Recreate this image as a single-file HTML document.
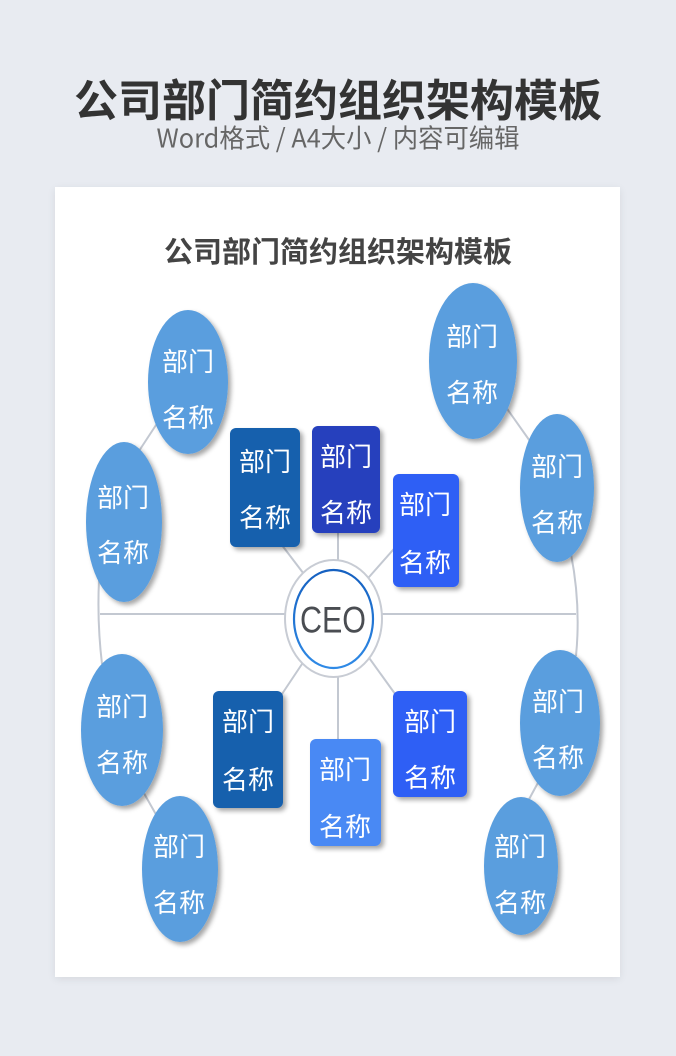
<!DOCTYPE html>
<html>
<head>
<meta charset="utf-8">
<style>
html,body{margin:0;padding:0;}
body{width:676px;height:1056px;background:#e8ebf1;overflow:hidden;position:relative;}
.card{position:absolute;left:55px;top:187px;width:565px;height:790px;background:#fff;box-shadow:0 2px 8px rgba(0,0,0,0.08);}
svg{position:absolute;left:0;top:0;}
text{font-family:"Liberation Sans","Noto Sans CJK SC",sans-serif;}
</style>
</head>
<body>
<div class="card"></div>
<svg width="676" height="1056" viewBox="0 0 676 1056" xmlns="http://www.w3.org/2000/svg">
<defs>
<filter id="sh" x="-30%" y="-30%" width="160%" height="160%">
<feDropShadow dx="3" dy="3" stdDeviation="2.5" flood-color="#000" flood-opacity="0.35"/>
</filter>
<linearGradient id="ring" x1="0" y1="0" x2="0" y2="1">
<stop offset="0" stop-color="#1560c0"/>
<stop offset="1" stop-color="#2f8ae6"/>
</linearGradient>
</defs>

<!-- titles -->
<text x="338" y="97" text-anchor="middle" dominant-baseline="central" font-size="44" font-weight="bold" fill="#333" style='font-family:"Noto Sans CJK SC",sans-serif'>公司部门简约组织架构模板</text>
<text x="338" y="137" text-anchor="middle" dominant-baseline="central" font-size="26" fill="#666" textLength="363" lengthAdjust="spacingAndGlyphs" style='font-family:"Noto Sans CJK SC",sans-serif'>Word格式 / A4大小 / 内容可编辑</text>
<text x="338" y="250" text-anchor="middle" dominant-baseline="central" font-size="29" font-weight="bold" fill="#444" style='font-family:"Noto Sans CJK SC",sans-serif'>公司部门简约组织架构模板</text>

<!-- connectors -->
<g stroke="#c3c8d1" stroke-width="2" fill="none">
<line x1="100" y1="614" x2="290" y2="614"/>
<line x1="378" y1="614" x2="576" y2="614"/>
<path d="M99 580 Q97 622 102 664"/>
<path d="M571 554 Q581 605 576 656"/>
<line x1="158" y1="422" x2="137" y2="454"/>
<line x1="503" y1="403" x2="532" y2="444"/>
<line x1="141" y1="788" x2="158" y2="818"/>
<line x1="540" y1="779" x2="527" y2="803"/>
<line x1="310" y1="582" x2="278" y2="540"/>
<line x1="338" y1="528" x2="338" y2="566"/>
<line x1="362" y1="585" x2="400" y2="542"/>
<line x1="310" y1="652" x2="278" y2="700"/>
<line x1="338" y1="668" x2="338" y2="742"/>
<line x1="362" y1="648" x2="398" y2="698"/>
</g>

<!-- CEO -->
<ellipse cx="333.5" cy="618.5" rx="48.5" ry="58.5" fill="#fff" stroke="#c8ccd4" stroke-width="2"/>
<ellipse cx="333.5" cy="619" rx="39.5" ry="49" fill="#fff" stroke="url(#ring)" stroke-width="2.2"/>
<text x="333" y="620" text-anchor="middle" dominant-baseline="central" font-size="37" fill="#4a4d52" textLength="66" lengthAdjust="spacingAndGlyphs">CEO</text>

<!-- rects -->
<g filter="url(#sh)">
<rect x="230" y="428" width="70" height="119" rx="6" fill="#1460ad"/>
<rect x="312" y="426" width="68" height="107" rx="6" fill="#2540bd"/>
<rect x="393" y="474" width="66" height="113" rx="6" fill="#2e5ff5"/>
<rect x="213" y="691" width="70" height="117" rx="6" fill="#1460ad"/>
<rect x="310" y="739" width="71" height="107" rx="6" fill="#4a89f4"/>
<rect x="393" y="691" width="74" height="106" rx="6" fill="#2e5ff5"/>
</g>

<!-- ellipses -->
<g filter="url(#sh)" fill="#5a9ede">
<ellipse cx="188" cy="382" rx="40" ry="72"/>
<ellipse cx="124" cy="522" rx="38" ry="80"/>
<ellipse cx="473" cy="361" rx="44" ry="78"/>
<ellipse cx="557" cy="488" rx="37" ry="74"/>
<ellipse cx="122" cy="730" rx="41" ry="76"/>
<ellipse cx="180" cy="869" rx="38" ry="73"/>
<ellipse cx="560" cy="723" rx="40" ry="73"/>
<ellipse cx="521" cy="866" rx="37" ry="69"/>
</g>

<!-- labels -->
<g fill="#fff" font-size="26" text-anchor="middle" dominant-baseline="central" style='font-family:"Noto Sans CJK SC",sans-serif'>
<text x="265" y="462">部门</text><text x="265" y="518">名称</text>
<text x="346" y="457">部门</text><text x="346" y="513">名称</text>
<text x="425" y="505">部门</text><text x="425" y="563">名称</text>
<text x="248" y="722">部门</text><text x="248" y="780">名称</text>
<text x="345" y="770">部门</text><text x="345" y="827">名称</text>
<text x="430" y="722">部门</text><text x="430" y="778">名称</text>

<text x="188" y="362">部门</text><text x="188" y="418">名称</text>
<text x="123" y="498">部门</text><text x="123" y="553">名称</text>
<text x="472" y="337">部门</text><text x="472" y="393">名称</text>
<text x="557" y="467">部门</text><text x="557" y="523">名称</text>
<text x="122" y="707">部门</text><text x="122" y="763">名称</text>
<text x="179" y="847">部门</text><text x="179" y="903">名称</text>
<text x="558" y="702">部门</text><text x="558" y="758">名称</text>
<text x="520" y="847">部门</text><text x="520" y="903">名称</text>
</g>
</svg>
</body>
</html>
